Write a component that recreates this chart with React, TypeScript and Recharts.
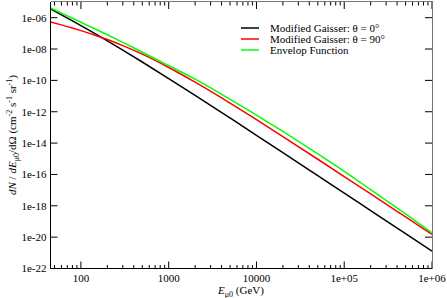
import React from "react";
import { LineChart, Line, XAxis, YAxis, Legend } from "recharts";

// muon energy at sea level (GeV)
const energies = [45, 60, 80, 100, 150, 200, 300, 500, 1000, 2000, 5000, 1e4, 2e4, 5e4, 1e5, 2e5, 5e5, 1e6];

// dN/dE dOmega
const gaisser0 = [3.61e-6, 1.52e-6, 6.26e-7, 3.11e-7, 8.5e-8, 3.31e-8, 8.53e-9, 1.49e-9, 1.31e-10, 1.11e-11, 3.99e-13, 3.15e-14, 2.46e-15, 8.36e-17, 6.46e-18, 4.97e-19, 1.68e-20, 1.29e-21];
const gaisser90 = [5.37e-7, 3.48e-7, 2.19e-7, 1.49e-7, 7.1e-8, 4.01e-8, 1.65e-8, 4.69e-9, 6.65e-10, 7.67e-11, 3.56e-12, 3.15e-13, 2.62e-14, 9.31e-16, 7.31e-17, 5.69e-18, 1.93e-19, 1.49e-20];
const envelope = [4.17e-6, 1.95e-6, 9.16e-7, 5.09e-7, 1.75e-7, 8.15e-8, 2.67e-8, 6.22e-9, 8.71e-10, 1.19e-10, 6.19e-12, 6.17e-13, 5.5e-14, 2.04e-15, 1.58e-16, 1.07e-17, 3.02e-19, 1.86e-20];

const seriesNames = ["Modified Gaisser: θ = 0°", "Modified Gaisser: θ = 90°", "Envelop Function"];
const seriesColors = ["#000000", "#ff0000", "#00ff00"];

const xMajor = [100, 1000, 10000, 100000, 1000000];
const xMajorLabels = ["100", "1000", "10000", "1e+05", "1e+06"];
const xMinorBelow = [50, 60, 70, 80, 90];
const minorMantissa = [2, 3, 4, 5, 6, 7, 8, 9];
const yTicks = [1e-22, 1e-20, 1e-18, 1e-16, 1e-14, 1e-12, 1e-10, 1e-8, 1e-6];
const yTickLabels = ["1e-22", "1e-20", "1e-18", "1e-16", "1e-14", "1e-12", "1e-10", "1e-08", "1e-06"];

const xTicks = [
  ...xMinorBelow,
  ...xMajor,
  ...xMajor.slice(0, 4).flatMap((d) => minorMantissa.map((m) => m * d)),
];

const data = energies.map((E, i) => ({
  E,
  g0: gaisser0[i],
  g90: gaisser90[i],
  env: envelope[i],
}));

const font = '"Liberation Serif", "Times New Roman", serif';

// plot box, used to mirror ticks onto the top and right edges
const plotLeft = 50.5;
const plotTop = 2;
const plotWidth = 381.5;
const plotHeight = 266.5;

const BottomTick = (p: any) => {
  const i = xMajor.indexOf(p.payload.value);
  const len = i >= 0 ? 7 : 3.5;
  const x = Number(p.x);
  const y = Number(p.y);
  const top = y - plotHeight;
  return (
    <g>
      <line x1={x} x2={x} y1={y} y2={y - len} stroke="#000" strokeWidth={1} />
      <line x1={x} x2={x} y1={top} y2={top + len} stroke="#000" strokeWidth={1} />
      {i >= 0 && (
        <text x={x} y={y + 13} textAnchor="middle" fontSize={11} fontFamily={font} fill="#000">
          {xMajorLabels[i]}
        </text>
      )}
    </g>
  );
};

const LeftTick = (p: any) => {
  const i = yTicks.indexOf(p.payload.value);
  const x = Number(p.x);
  const y = Number(p.y);
  const right = x + plotWidth;
  return (
    <g>
      <line x1={x} x2={x + 7} y1={y} y2={y} stroke="#000" strokeWidth={1} />
      <line x1={right} x2={right - 7} y1={y} y2={y} stroke="#000" strokeWidth={1} />
      <text x={x - 4} y={y} dy="0.35em" textAnchor="end" fontSize={11} fontFamily={font} fill="#000">
        {yTickLabels[i]}
      </text>
    </g>
  );
};

const YTitle = () => (
  <text transform="translate(16,135) rotate(-90)" textAnchor="middle" fontFamily={font} fontSize={11} fill="#000">
    <tspan fontStyle="italic">dN</tspan>
    <tspan> / </tspan>
    <tspan fontStyle="italic">dE</tspan>
    <tspan fontSize={8} dy={3}>μ0</tspan>
    <tspan dy={-3}>/dΩ (cm</tspan>
    <tspan fontSize={8} dy={-4}>-2</tspan>
    <tspan dy={4}> s</tspan>
    <tspan fontSize={8} dy={-4}>-1</tspan>
    <tspan dy={4}> sr</tspan>
    <tspan fontSize={8} dy={-4}>-1</tspan>
    <tspan dy={4}>)</tspan>
  </text>
);

const XTitle = () => (
  <text x={241} y={293.5} textAnchor="middle" fontFamily={font} fontSize={11} fill="#000">
    <tspan fontStyle="italic">E</tspan>
    <tspan fontSize={8} dy={3}>μ0</tspan>
    <tspan dy={-3}> (GeV)</tspan>
  </text>
);

const renderLegend = () => (
  <div style={{ fontFamily: font, fontSize: 11, color: "#000" }}>
    {seriesNames.map((name, i) => (
      <div key={name} style={{ display: "flex", alignItems: "center", height: 10.8, whiteSpace: "nowrap" }}>
        <svg width={18} height={4} style={{ marginRight: 11, display: "block" }}>
          <line x1={0} x2={18} y1={2} y2={2} stroke={seriesColors[i]} strokeWidth={1.5} />
        </svg>
        <span>{name}</span>
      </div>
    ))}
  </div>
);

const App: React.FC = () => {
  return (
    <div style={{ position: "absolute", left: 0, top: 0, width: 447, height: 298, background: "#fff" }}>
      <LineChart width={447} height={298} data={data} margin={{ top: 2, right: 15, bottom: 0, left: 0 }}>
        <XAxis
          dataKey="E"
          type="number"
          scale="log"
          domain={[45, 1e6]}
          allowDataOverflow
          ticks={xTicks}
          interval={0}
          tickSize={0}
          tickMargin={0}
          tickLine={false}
          tick={BottomTick}
          height={29.5}
          axisLine={{ stroke: "#000" }}
          label={XTitle}
        />
        <YAxis
          type="number"
          scale="log"
          domain={[1e-22, 1e-5]}
          allowDataOverflow
          ticks={yTicks}
          interval={0}
          tickSize={0}
          tickMargin={0}
          tickLine={false}
          tick={LeftTick}
          width={50.5}
          axisLine={{ stroke: "#000" }}
          label={YTitle}
        />
        <Legend
          layout="vertical"
          align="center"
          verticalAlign="middle"
          content={renderLegend}
          wrapperStyle={{ left: 241, top: 23, width: 200, height: 33 }}
        />
        <Line type="monotone" dataKey="g0" name={seriesNames[0]} stroke={seriesColors[0]} strokeWidth={1.5} dot={false} isAnimationActive={false} />
        <Line type="monotone" dataKey="g90" name={seriesNames[1]} stroke={seriesColors[1]} strokeWidth={1.5} dot={false} isAnimationActive={false} />
        <Line type="monotone" dataKey="env" name={seriesNames[2]} stroke={seriesColors[2]} strokeWidth={1.5} dot={false} isAnimationActive={false} />
      </LineChart>
      {/* top and right edges of the frame */}
      <div
        style={{
          position: "absolute",
          left: plotLeft,
          top: plotTop - 1,
          width: plotWidth + 0.5,
          height: plotHeight + 1,
          boxSizing: "border-box",
          borderTop: "1.5px solid #777",
          borderRight: "1.5px solid #777",
          pointerEvents: "none",
        }}
      />
    </div>
  );
};

export default App;
